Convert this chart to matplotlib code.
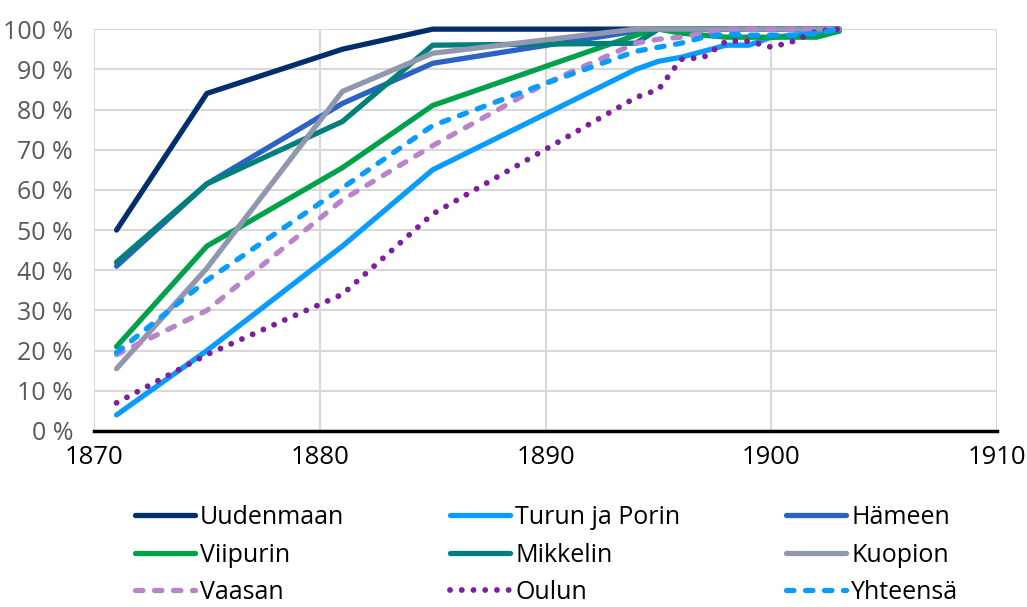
import matplotlib
matplotlib.use("Agg")
import matplotlib.pyplot as plt

plt.rcParams["font.family"] = ["Open Sans", "DejaVu Sans"]

# ----- data (share of value, %) -----
uud_years = [1871, 1875, 1881, 1885, 1903]
uud_vals = [50, 84, 95, 100, 100]

tur_years = [1871, 1875, 1881, 1885, 1894, 1895, 1896, 1897, 1898, 1899, 1900, 1901, 1902, 1903]
tur_vals = [4, 20, 46, 65, 90, 92, 93, 94.5, 96, 96, 98, 98.5, 99, 99.5]

ham_years = [1871, 1875, 1881, 1885, 1894, 1895, 1903]
ham_vals = [41, 61.5, 81.5, 91.5, 99.5, 100, 100]

vii_years = [1871, 1875, 1881, 1885, 1894, 1895, 1896, 1897, 1898, 1899, 1900, 1901, 1902, 1903]
vii_vals = [21, 46, 65.5, 81, 98.5, 100, 99, 98.5, 98, 98, 98, 98, 98, 99.5]

mik_years = [1871, 1875, 1881, 1885, 1894, 1895, 1903]
mik_vals = [42, 61.5, 77, 96, 96.5, 100, 100]

kuo_years = [1871, 1875, 1881, 1885, 1894, 1903]
kuo_vals = [15.5, 40.5, 84.5, 94, 100, 100]

vaa_years = [1871, 1875, 1881, 1885, 1890, 1894, 1895, 1896, 1897, 1898, 1903]
vaa_vals = [19, 30, 57.5, 71, 86.5, 96.5, 97.5, 98, 99, 100, 100]

oul_years = [1871, 1875, 1881, 1885, 1894, 1895, 1896, 1897, 1898, 1899, 1900, 1901, 1902, 1903]
oul_vals = [7, 19, 34, 54, 83, 85, 92.5, 93, 97, 97, 95.5, 97, 99.5, 100]

yht_years = [1871, 1875, 1881, 1885, 1890, 1894, 1895, 1896, 1897, 1898, 1899, 1900, 1901, 1902, 1903]
yht_vals = [19.5, 37.5, 60.5, 76, 86.5, 94.5, 95.5, 96.5, 98, 98.8, 98.5, 98.5, 98.5, 99, 100]

y_ticks = list(range(0, 101, 10))
x_ticks = [1870, 1880, 1890, 1900, 1910]

series = [
    ("Uudenmaan", uud_years, uud_vals, "#002F6C", "-"),
    ("Turun ja Porin", tur_years, tur_vals, "#0A9BFF", "-"),
    ("Hämeen", ham_years, ham_vals, "#2B63C5", "-"),
    ("Viipurin", vii_years, vii_vals, "#00A14B", "-"),
    ("Mikkelin", mik_years, mik_vals, "#00807A", "-"),
    ("Kuopion", kuo_years, kuo_vals, "#9197AE", "-"),
    ("Vaasan", vaa_years, vaa_vals, "#B984CC", (0, (1.4, 2.2))),
    ("Oulun", oul_years, oul_vals, "#7D1F9E", (0, (0.01, 2.0))),
    ("Yhteensä", yht_years, yht_vals, "#0A9BFF", (0, (1.4, 2.2))),
]

fig = plt.figure(figsize=(10.27, 6.07), dpi=100)
ax = fig.add_axes([0.0915, 0.29, 0.8795, 0.662])

handles = []
for name, xs, ys, col, ls in series:
    lw = 4.2 if name == "Oulun" else 3.8
    h, = ax.plot(xs, ys, color=col, lw=lw, ls=ls, label=name,
                 dash_capstyle="round", solid_capstyle="round",
                 solid_joinstyle="round", clip_on=False, zorder=3)
    handles.append(h)

ax.set_xlim(1870, 1910)
ax.set_ylim(0, 100)
ax.set_xticks(x_ticks)
ax.set_yticks(y_ticks)
ax.set_yticklabels([f"{v} %" for v in y_ticks], color="#595959", fontsize=18)
ax.set_xticklabels([str(v) for v in x_ticks], color="black", fontsize=18.5)
ax.tick_params(axis="y", length=0, pad=15)
ax.tick_params(axis="x", length=0, pad=10)
ax.grid(color="#D9D9D9", lw=1.5, zorder=0)
ax.set_axisbelow(True)
for side in ["top", "right", "left"]:
    ax.spines[side].set_visible(False)
ax.spines["bottom"].set_linewidth(2.5)
ax.spines["bottom"].set_color("black")
ax.spines["bottom"].set_zorder(4)

# legend fills column-wise, so reorder to get row-wise reading
order = [0, 3, 6, 1, 4, 7, 2, 5, 8]
fig.legend([handles[i] for i in order], [series[i][0] for i in order],
           loc="upper left", bbox_to_anchor=(0.131, 0.168), ncol=3,
           frameon=False, fontsize=18, handlelength=2.4, handletextpad=0.2,
           columnspacing=4.25, labelspacing=0.5, borderaxespad=0, borderpad=0)

fig.savefig("out.png", dpi=100)
